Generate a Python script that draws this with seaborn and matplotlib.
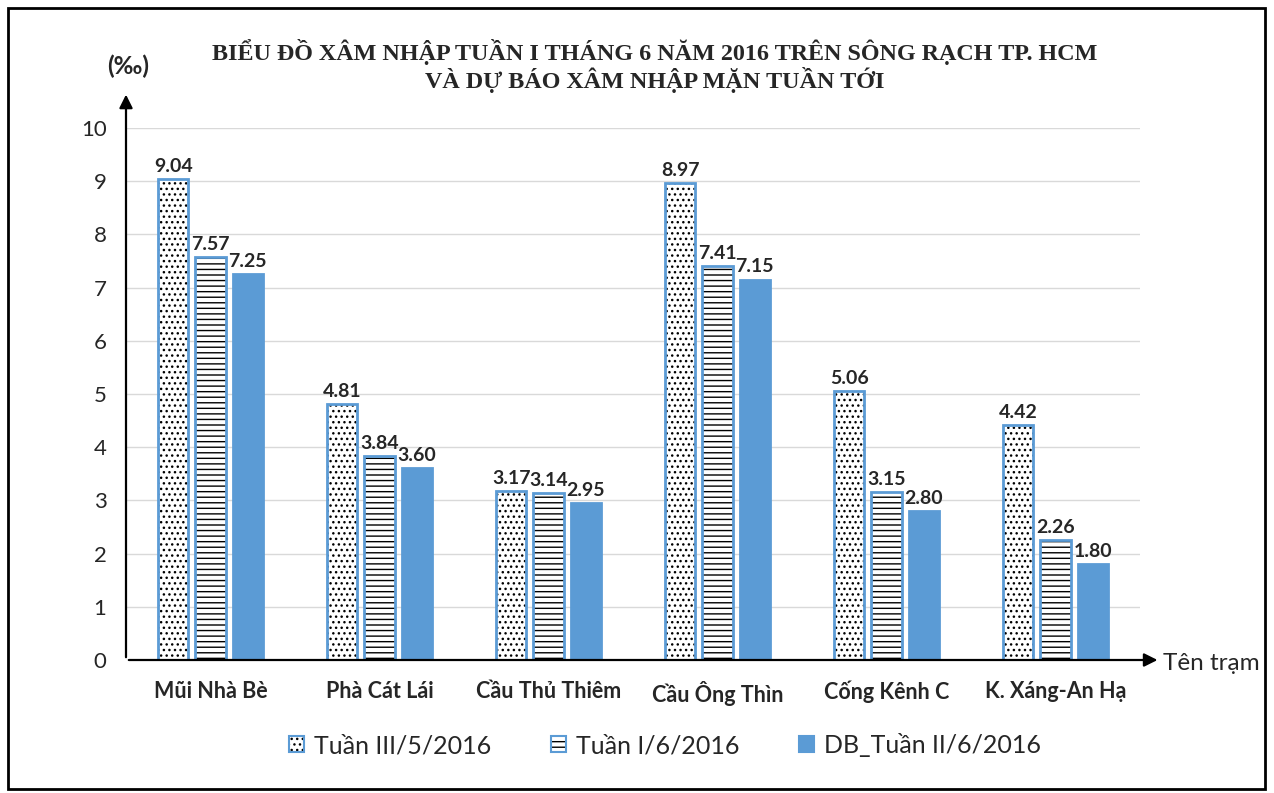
import matplotlib.pyplot as plt
import matplotlib.patches as mpatches
import seaborn as sns
import pandas as pd

stations = ["Mũi Nhà Bè", "Phà Cát Lái", "Cầu Thủ Thiêm", "Cầu Ông Thìn", "Cống Kênh C", "K. Xáng-An Hạ"]
series_names = ["Tuần III/5/2016", "Tuần I/6/2016", "DB_Tuần II/6/2016"]
tuan3_5 = [9.04, 4.81, 3.17, 8.97, 5.06, 4.42]
tuan1_6 = [7.57, 3.84, 3.14, 7.41, 3.15, 2.26]
db_tuan2_6 = [7.25, 3.60, 2.95, 7.15, 2.80, 1.80]
y_ticks = list(range(0, 11))

blue = "#5B9BD5"
font = ["Lato", "DejaVu Sans"]

df = pd.DataFrame({
    "station": stations * 3,
    "value": tuan3_5 + tuan1_6 + db_tuan2_6,
    "series": [series_names[0]] * 6 + [series_names[1]] * 6 + [series_names[2]] * 6,
})

sns.set_style("white")
plt.rcParams["font.family"] = font

fig = plt.figure(figsize=(12.74, 7.93), dpi=100)
ax = fig.add_axes([126 / 1274, 133 / 793, 1014 / 1274, 532 / 793])

sns.barplot(data=df, x="station", y="value", hue="series", hue_order=series_names,
            palette=["white", "white", blue], saturation=1, width=0.66, gap=0.19,
            edgecolor=blue, linewidth=2, legend=False, ax=ax)

hatches = ["...", "---", None]


def black_hatch(p):
    if hasattr(p, "set_hatchcolor"):
        p.set_hatchcolor("black")
    else:
        p._hatch_color = (0, 0, 0, 1)


for cont, h in zip(ax.containers, hatches):
    for bar in cont:
        if h:
            bar.set_hatch(h)
            black_hatch(bar)
    ax.bar_label(cont, fmt="%.2f", padding=3, fontsize=14, fontweight="bold")

ax.set_xlim(-0.5, 5.5)
ax.set_ylim(0, 10)
ax.set_yticks(y_ticks)
ax.set_xlabel("")
ax.set_ylabel("")
ax.yaxis.grid(True, color="#D9D9D9", lw=1)
ax.set_axisbelow(True)
for s in ax.spines.values():
    s.set_visible(False)
ax.tick_params(axis="y", length=0, pad=14, labelsize=16)
ax.tick_params(axis="x", length=0, pad=15, labelsize=15.5)
for t in ax.get_xticklabels():
    t.set_fontweight("bold")

# axis arrows
ax.annotate("", xy=(0, 1.068), xytext=(0, 0), xycoords="axes fraction",
            arrowprops=dict(arrowstyle="-|>", color="black", lw=1.6, mutation_scale=20),
            annotation_clip=False)
ax.annotate("", xy=(1.02, 0), xytext=(0, 0), xycoords="axes fraction",
            arrowprops=dict(arrowstyle="-|>", color="black", lw=1.6, mutation_scale=20),
            annotation_clip=False)

fig.text(128 / 1274, 1 - 66 / 793, "(‰)", ha="center", va="center", fontsize=17.5, fontweight="bold")
fig.text(1163 / 1274, 1 - 663 / 793, "Tên trạm", ha="left", va="center", fontsize=17.5)

fig.text(655 / 1274, 1 - 52 / 793, "BIỂU ĐỒ XÂM NHẬP TUẦN I THÁNG 6 NĂM 2016 TRÊN SÔNG RẠCH TP. HCM",
         ha="center", va="center", fontsize=17.4, fontweight="bold", family="Liberation Serif")
fig.text(655 / 1274, 1 - 80 / 793, "VÀ DỰ BÁO XÂM NHẬP MẶN TUẦN TỚI",
         ha="center", va="center", fontsize=17.4, fontweight="bold", family="Liberation Serif")

# legend
handles = [cont[0] for cont in ax.containers]
leg = fig.legend(handles, series_names, loc="center", bbox_to_anchor=(665 / 1274, 1 - 745 / 793),
                 ncol=3, frameon=False, fontsize=18, handlelength=0.6, handleheight=0.6,
                 columnspacing=2.4, handletextpad=0.4)
for p in leg.get_patches():
    p.set_linewidth(1.5)

fig.patches.append(mpatches.Rectangle((8 / 1274, 4 / 793), 1257 / 1274, 781 / 793,
                                      transform=fig.transFigure, fill=False,
                                      edgecolor="black", lw=2))

fig.savefig("out.png", dpi=100)
